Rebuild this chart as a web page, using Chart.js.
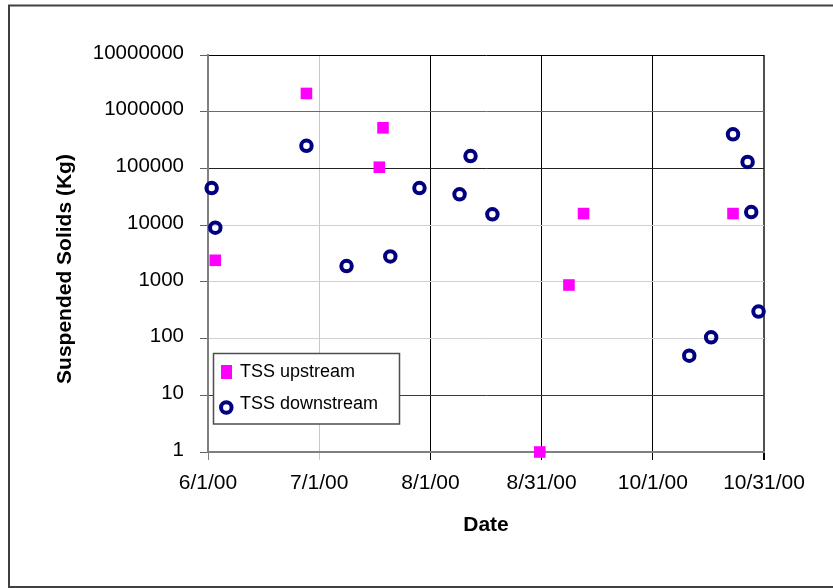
<!DOCTYPE html>
<html><head><meta charset="utf-8">
<script src="https://cdn.jsdelivr.net/npm/chart.js@4.4.1/dist/chart.umd.min.js"></script>
<style>html,body{margin:0;padding:0;background:#fff;overflow:hidden;} canvas{display:block;}</style>
</head><body>
<canvas id="c" width="833" height="588"></canvas>
<script>
// ---- data ----
const upstreamDates = ['6/3/00','6/28/00','7/18/00','7/19/00','8/31/00','9/8/00','9/12/00','10/23/00'];
const upstreamTSS   = [2400, 2100000, 105000, 520000, 1, 880, 16000, 16000];
const downstreamDates = ['6/2/00','6/3/00','6/28/00','7/9/00','7/21/00','7/29/00','8/9/00','8/12/00','8/18/00','10/11/00','10/17/00','10/23/00','10/27/00','10/28/00','10/30/00'];
const downstreamTSS   = [45000, 9000, 250000, 1900, 2800, 45000, 35000, 165000, 15500, 50, 105, 400000, 130000, 17000, 300];
const xTickLabels = ['6/1/00','7/1/00','8/1/00','8/31/00','10/1/00','10/31/00'];
const yTickValues = [1,10,100,1000,10000,100000,1000000,10000000];
const seriesNames = ['TSS upstream','TSS downstream'];
const xAxisTitle = 'Date';
const yAxisTitle = 'Suspended Solids (Kg)';

function toDay(s){const p=s.split('/').map(Number);return Date.UTC(2000+p[2],p[0]-1,p[1])/86400000;}
const baseDay = toDay(xTickLabels[0]);
const majorUnit = 30.5;
const FONT = '"Liberation Sans", Arial, sans-serif';

const xGridColors = ['#808080','#c8c8c8','#000000','#000000','#000000','#505050'];
const xTickColors = ['#808080','#c8c8c8','#000000','#000000','#000000','#000000'];
const xGridWidths = [1,1,1,1,1,2];
const yGridColors = ['#808080','#3a3a3a','#d0d0d0','#d0d0d0','#d0d0d0','#222222','#6a6a6a','#000000'];

const framePlugin = {
  id:'frame',
  beforeDraw(chart){
    const c=chart.ctx; c.save();
    c.fillStyle='#fff'; c.fillRect(0,0,chart.width,chart.height);
    c.strokeStyle='#404040'; c.lineWidth=2;
    c.strokeRect(9,5.5,900,581.5);
    c.restore();
  },
  afterDraw(chart){
    const c=chart.ctx; c.save();
    c.translate(65.5,269); c.rotate(-Math.PI/2);
    c.font='bold 21px '+FONT; c.fillStyle='#000'; c.textAlign='center'; c.textBaseline='middle';
    c.fillText(yAxisTitle,0,0);
    c.restore();
  }
};

const legendPlugin = {
  id:'insideLegend',
  afterDatasetsDraw(chart){
    const c=chart.ctx, ds=chart.data.datasets; c.save();
    c.fillStyle='#fff'; c.fillRect(213.5,353.5,186,70.5);
    c.strokeStyle='#4d4d4d'; c.lineWidth=1.5; c.strokeRect(213.5,353.5,186,70.5);
    c.fillStyle=ds[0].backgroundColor; c.fillRect(221,365,11,14);
    c.strokeStyle=ds[1].borderColor; c.fillStyle='rgba(0,0,0,0)'; c.lineWidth=ds[1].borderWidth;
    Chart.helpers.drawPoint(c,{pointStyle:'circle',radius:5.25,borderWidth:ds[1].borderWidth},226.3,407.5);
    c.font='18px '+FONT; c.fillStyle='#000'; c.textBaseline='alphabetic'; c.textAlign='left';
    c.fillText(ds[0].label,240,376.7);
    c.fillText(ds[1].label,240,409.3);
    c.restore();
  }
};

new Chart(document.getElementById('c'),{
  type:'scatter',
  data:{datasets:[
    {label:seriesNames[0], data:upstreamDates.map((d,i)=>({x:toDay(d)-baseDay,y:upstreamTSS[i]})),
     pointStyle:'rect', pointRadius:8.2, pointHoverRadius:8.2, backgroundColor:'#FF00FF', borderColor:'#FF00FF', borderWidth:0, clip:false},
    {label:seriesNames[1], data:downstreamDates.map((d,i)=>({x:toDay(d)-baseDay,y:downstreamTSS[i]})),
     pointStyle:'circle', pointRadius:5.25, pointHoverRadius:5.25, backgroundColor:'rgba(0,0,0,0)', borderColor:'#000080', borderWidth:4, clip:false}
  ]},
  options:{
    responsive:false, animation:false, devicePixelRatio:1,
    layout:{padding:{top:55,right:69,left:0,bottom:0}},
    plugins:{legend:{display:false}, tooltip:{enabled:false}},
    scales:{
      x:{type:'linear', min:0, max:majorUnit*(xTickLabels.length-1),
        afterBuildTicks(s){ s.ticks = xTickLabels.map((l,i)=>({value:i*majorUnit})); },
        afterFit(s){ s.height = 136; },
        ticks:{callback:(v,i)=>xTickLabels[i], autoSkip:false, maxRotation:0, minRotation:0, padding:11,
               font:{family:FONT,size:21}, color:'#000'},
        grid:{color:(ctx)=>xGridColors[ctx.index]||'#000', tickColor:(ctx)=>xTickColors[ctx.index]||'#000',
              lineWidth:(ctx)=>xGridWidths[ctx.index]||1, tickLength:8, drawTicks:true},
        border:{display:true, color:'#7f7f7f', width:2},
        title:{display:true, text:xAxisTitle, font:{family:FONT,size:21,weight:'bold'}, color:'#000', padding:{top:0,bottom:50}}
      },
      y:{type:'logarithmic', min:yTickValues[0], max:yTickValues[yTickValues.length-1],
        afterBuildTicks(s){ s.ticks = yTickValues.map(v=>({value:v})); },
        afterFit(s){ s.width = 208; },
        ticks:{callback:(v)=>String(v), padding:16, labelOffset:-2, font:{family:FONT,size:20.5}, color:'#000', autoSkip:false},
        grid:{color:(ctx)=>yGridColors[ctx.index]||'#000', tickColor:'#606060', lineWidth:1, tickLength:8},
        border:{display:true, color:'#7f7f7f', width:2}
      }
    }
  },
  plugins:[framePlugin, legendPlugin]
});
</script>
</body></html>
